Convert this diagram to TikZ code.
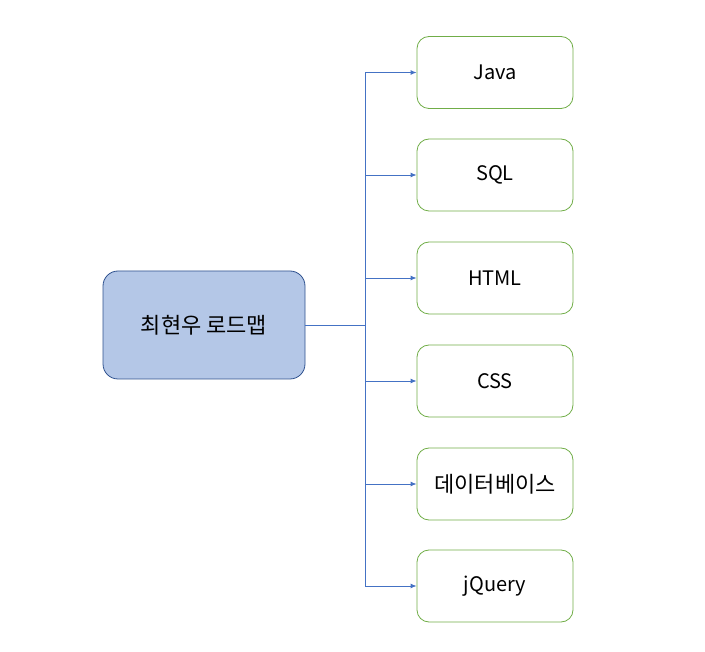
\documentclass[tikz,border=0pt]{standalone}
\usepackage{fontspec}
\setmainfont{Noto Sans CJK KR}
\usetikzlibrary{arrows.meta}
\definecolor{rootfill}{HTML}{B4C7E7}
\definecolor{rootdraw}{HTML}{2F528F}
\definecolor{leafdraw}{HTML}{70AD47}
\definecolor{linkcol}{HTML}{4472C4}
\begin{document}
\begin{tikzpicture}[x=1pt,y=-1pt,
  rootbox/.style={draw=rootdraw, fill=rootfill, rounded corners=15pt, minimum width=202pt, minimum height=108pt, line width=0.8pt, inner sep=0pt, font=\fontsize{22}{26}\selectfont},
  leafbox/.style={draw=leafdraw, rounded corners=12pt, minimum width=156pt, minimum height=72pt, line width=0.8pt, inner sep=0pt, font=\fontsize{20}{24}\selectfont},
  kofont/.style={font=\fontsize{22}{26}\selectfont},
  link/.style={draw=linkcol, line width=0.9pt, -{Latex[length=6pt,width=5pt]}},
  trunk/.style={draw=linkcol, line width=0.9pt}]
\useasboundingbox (0,0) rectangle (705,652);
\node[rootbox] (root) at (204,325) {최현우 로드맵};
\node[leafbox] (l1) at (495,72.5) {Java};
\node[leafbox] (l2) at (495,175) {SQL};
\node[leafbox] (l3) at (495,278) {HTML};
\node[leafbox] (l4) at (495,381) {CSS};
\node[leafbox,kofont] (l5) at (495,484) {데이터베이스};
\node[leafbox] (l6) at (495,586) {jQuery};
\coordinate (j) at (365,325);
\draw[trunk] (root.east) -- (j);
\draw[trunk] (j |- l1.west) -- (j |- l6.west);
\foreach \n in {l1,l2,l3,l4,l5,l6}{
  \draw[link] (j |- \n.west) -- (\n.west);
}
\end{tikzpicture}
\end{document}
